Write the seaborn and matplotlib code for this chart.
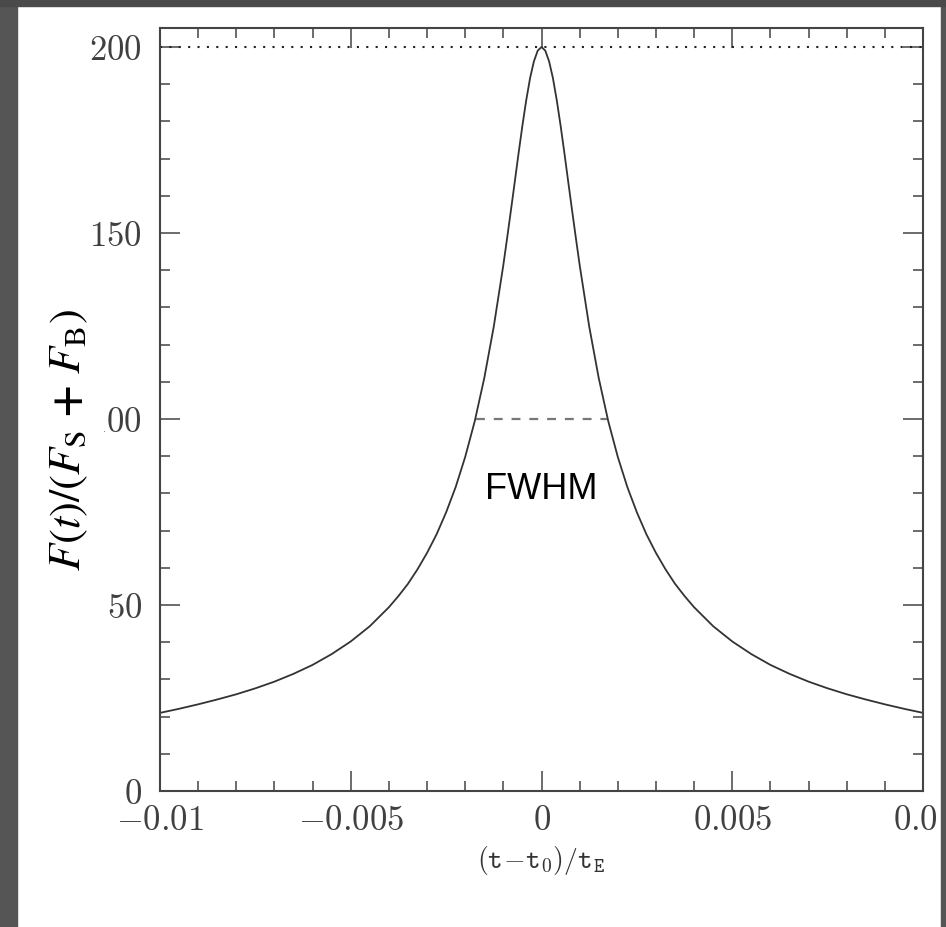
import numpy as np
import pandas as pd
import matplotlib
matplotlib.use('Agg')
import matplotlib.pyplot as plt
from matplotlib.patches import Rectangle
from matplotlib.ticker import MultipleLocator
import seaborn as sns

# light curve (symmetric about t0)
tau_pos = [0.0, 0.0001, 0.0002, 0.0003, 0.0004, 0.0005, 0.0006, 0.0007, 0.0008,
           0.0009, 0.001, 0.00125, 0.0015, 0.00175, 0.002, 0.00225, 0.0025,
           0.00275, 0.003, 0.00325, 0.0035, 0.00375, 0.004, 0.0045, 0.005,
           0.0055, 0.006, 0.0065, 0.007, 0.0075, 0.008, 0.0085, 0.009, 0.0095, 0.01]
flux_pos = [200.0, 199.0, 196.1, 191.6, 185.7, 178.9, 171.5, 163.8, 156.2,
            148.7, 141.4, 124.9, 111.0, 99.4, 89.8, 81.7, 74.9,
            69.0, 64.0, 59.6, 55.7, 52.4, 49.4, 44.3, 40.2,
            36.8, 33.9, 31.5, 29.4, 27.6, 26.0, 24.6, 23.3, 22.1, 21.0]
peak_level = 200
half_level = 100
fwhm_x = [-0.00173, 0.00173]

x_ticks = [-0.01, -0.005, 0, 0.005, 0.01]
x_ticklabels = ['$-0.01$', '$-0.005$', '$0$', '$0.005$', '$0.01$']
y_ticks = [0, 50, 100, 150, 200]
y_ticklabels = ['$0$', '$50$', '$100$', '$150$', '$200$']

tau = [-t for t in tau_pos[:0:-1]] + tau_pos
flux = flux_pos[:0:-1] + flux_pos
df = pd.DataFrame({'tau': tau, 'flux': flux})

sns.set_style('ticks')
plt.rcParams['mathtext.fontset'] = 'cm'

fig = plt.figure(figsize=(9.46, 9.27), dpi=100)
fig.patch.set_facecolor('white')
ax = fig.add_axes([160 / 946, 136 / 927, 763 / 946, 763 / 927])

sns.lineplot(data=df, x='tau', y='flux', color='#333333', lw=1.3, ax=ax, sort=False)
ax.axhline(peak_level, color='#222222', lw=1.5, ls=(0, (1, 3.5)))
ax.hlines(half_level, fwhm_x[0], fwhm_x[1], color='#777777', lw=1.6, ls=(0, (4, 4)))
ax.text(0, 81, 'FWHM', ha='center', va='center', fontsize=26,
        family='Liberation Sans', color='black')

ax.set_xlim(-0.01, 0.01)
ax.set_ylim(0, 205.1)
ax.set_xticks(x_ticks)
ax.set_xticklabels(x_ticklabels)
ax.set_yticks(y_ticks)
ax.set_yticklabels(y_ticklabels)
ax.xaxis.set_minor_locator(MultipleLocator(0.001))
ax.yaxis.set_minor_locator(MultipleLocator(10))
ax.tick_params(which='both', direction='in', top=True, right=True,
               color='#444444', width=1.1, labelsize=25, labelcolor='#404040')
ax.tick_params(which='major', length=14.5)
ax.tick_params(which='minor', length=7.2)
ax.tick_params(axis='x', pad=9)
ax.tick_params(axis='y', pad=13)
for s in ax.spines.values():
    s.set_color('#444444')
    s.set_linewidth(1.5)

ax.set_xlabel(r'$(\mathtt{t}\!-\!\mathtt{t}_0)/\mathtt{t}_\mathtt{E}$',
              fontsize=20, color='#333333')
ax.xaxis.set_label_coords(0.5, -0.07)
ax.set_ylabel(r'$F(t)/(F_{\rm S}\ \mathbf{+}\ F_{\rm B})$', fontsize=32,
              color='black', math_fontfamily='stix',
              bbox=dict(facecolor='white', edgecolor='none', pad=10))
ax.yaxis.label.set_va('center')
ax.yaxis.set_label_coords((69 - 160) / 763, (791 - 440) / 763)

# dark frame around the white page
gray = '#555555'
fig.patches.append(Rectangle((0, 0), 17 / 946, 1, transform=fig.transFigure,
                             color=gray, zorder=10))
fig.patches.append(Rectangle((941 / 946, 0), 5 / 946, 1, transform=fig.transFigure,
                             color=gray, zorder=10))
fig.patches.append(Rectangle((0, 921 / 927), 1, 6 / 927, transform=fig.transFigure,
                             color='#4a4a4a', zorder=10))

fig.savefig('out.png', dpi=100)
